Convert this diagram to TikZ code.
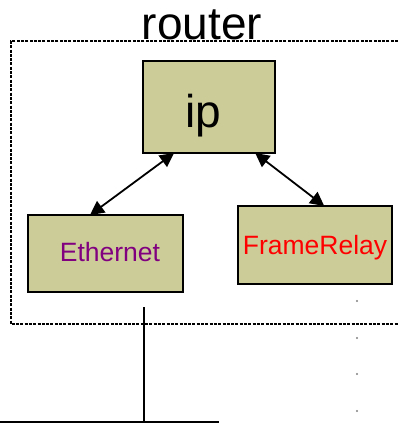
\documentclass[tikz,border=0pt]{standalone}
\usepackage{fontspec}
\setmainfont{Liberation Sans}
\usetikzlibrary{arrows.meta,calc}
\definecolor{boxfill}{RGB}{204,204,153}
\definecolor{ethpurple}{RGB}{128,0,128}
\begin{document}
\begin{tikzpicture}[x=1pt,y=-1pt,
  box/.style={draw=black,line width=2pt,fill=boxfill},
  link/.style={line width=1.8pt,{Triangle[length=14pt,width=14pt]}-{Triangle[length=14pt,width=14pt]}},
  frame/.style={line width=2.3pt,dash pattern=on 3pt off 1.3pt},
  lbl/.style={inner sep=0pt,anchor=base}]
\useasboundingbox (0,0) rectangle (398,423);
% dotted router frame
\coordinate (f1) at (398,41);
\coordinate (f2) at (11,41);
\coordinate (f3) at (11,324);
\coordinate (f4) at (398,324);
\draw[frame] (f1) -- (f2) -- (f3) -- (f4);
\node[lbl,font=\fontsize{46}{46}\selectfont] (router) at (202,39) {router};
% boxes
\draw[box] (143,61) rectangle (275,153);
\coordinate (ipSW) at (143,153); \coordinate (ipSE) at (275,153);
\node[lbl,font=\fontsize{46}{46}\selectfont] (ip) at (203,127) {ip};
\draw[box] (28,215) rectangle (183,292);
\coordinate (ethNW) at (28,215); \coordinate (ethNE) at (183,215);
\node[lbl,text=ethpurple,font=\fontsize{26.5}{26.5}\selectfont] (eth) at (110,261) {Ethernet};
\draw[box] (238,206) rectangle (392,284);
\coordinate (frNW) at (238,206); \coordinate (frNE) at (392,206);
\node[lbl,text=red,font=\fontsize{26.5}{26.5}\selectfont] (fr) at (315,254) {FrameRelay};
% connectors
\coordinate (a1) at ($(ipSW)!0.235!(ipSE)$);
\coordinate (a2) at ($(ethNW)!0.40!(ethNE)$);
\coordinate (b1) at ($(ipSW)!0.85!(ipSE)$);
\coordinate (b2) at ($(frNW)!0.56!(frNE)$);
\draw[link] (a1) -- (a2);
\draw[link] (b1) -- (b2);
% network line
\coordinate (v1) at (144,307);
\coordinate (v2) at (144,423);
\coordinate (h1) at (0,422);
\coordinate (h2) at (219,422);
\draw[line width=2.3pt] (v1) -- (v2);
\draw[line width=2.3pt] (h1) -- (h2);
% small dots
\foreach \yy in {301,338,374,411}
  \fill[gray] (357,\yy) circle (1.1pt);
\end{tikzpicture}
\end{document}
